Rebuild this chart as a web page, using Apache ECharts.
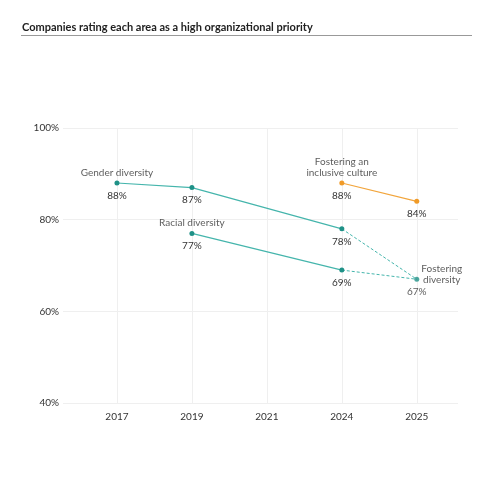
<!DOCTYPE html>
<html>
<head>
<meta charset="utf-8">
<script src="https://cdn.jsdelivr.net/npm/echarts@6/dist/echarts.min.js"></script>
<style>
html,body{margin:0;padding:0;background:#fff;}
#chart{width:500px;height:500px;}
</style>
</head>
<body>
<div id="chart"></div>
<script>
var titleText = 'Companies rating each area as a high organizational priority';
var years = ['2017', '2019', '2021', '2024', '2025'];
var yTicks = [40, 60, 80, 100];
var gender = [88, 87, null, 78, null];
var racial = [null, 77, null, 69, null];
var inclusive = [null, null, null, 88, 84];
var fostering = [null, null, null, null, 67];

var teal = '#45b5ac', tealDot = '#1f9187', orange = '#f2a53c', orangeDot = '#f09a27';
var font = 'Lato';

function pts(arr){
    var out = [];
    arr.forEach(function(v, i){ if(v != null) out.push([i, v]); });
    return out;
}
function firstPt(arr){ return pts(arr)[0]; }

var chart = echarts.init(document.getElementById('chart'));

var valueLabel = {
    show: true, position: 'bottom', distance: 5,
    formatter: function(p){ return p.value[1] + '%'; },
    color: '#333', fontSize: 10, fontFamily: font
};

function lineSeries(arr, c, dot){
    return {
        type: 'line', data: pts(arr), symbol: 'circle', symbolSize: 5,
        lineStyle: {color: c, width: 1.2},
        itemStyle: {color: dot},
        label: valueLabel, z: 3
    };
}
function dashSeries(a, b, c){
    return {
        type: 'line', data: [a, b], symbol: 'none', silent: true,
        lineStyle: {color: c, width: 1, type: [3, 2]}, z: 2
    };
}

var names = [
    {value: firstPt(gender), name: 'Gender diversity'},
    {value: firstPt(racial), name: 'Racial diversity'},
    {value: firstPt(inclusive), name: 'Fostering an\ninclusive culture'}
];

var option = {
    animation: false,
    textStyle: {fontFamily: font},
    graphic: [{
        type: 'text', left: 22, top: 22,
        style: {text: titleText, fill: '#222', font: 'bold 11px ' + font}
    }, {
        type: 'line', shape: {x1: 21, y1: 35.5, x2: 472, y2: 35.5},
        style: {stroke: '#999', lineWidth: 1}
    }],
    grid: {left: 63, right: 42, top: 128, bottom: 97},
    xAxis: {
        type: 'value', min: -0.72, max: 4.55,
        axisLine: {show: false},
        axisTick: {show: false, customValues: [0, 1, 2, 3, 4]},
        axisLabel: {
            customValues: [0, 1, 2, 3, 4], margin: 9,
            formatter: function(v){ return years[Math.round(v)]; },
            color: '#333', fontSize: 10, fontFamily: font
        },
        splitLine: {show: true, lineStyle: {color: '#efefef', width: 1}}
    },
    yAxis: {
        type: 'value', min: 40, max: 100, interval: 20,
        axisLine: {show: false}, axisTick: {show: false},
        axisLabel: {
            formatter: '{value}%', margin: 4,
            color: '#333', fontSize: 10, fontFamily: font
        },
        splitLine: {lineStyle: {color: '#efefef', width: 1}}
    },
    series: [
        dashSeries([3, gender[3]], [4, fostering[4]], teal),
        dashSeries([3, racial[3]], [4, fostering[4]], teal),
        lineSeries(gender, teal, tealDot),
        lineSeries(racial, teal, tealDot),
        lineSeries(inclusive, orange, orangeDot),
        {
            type: 'scatter', data: pts(fostering), symbolSize: 5,
            itemStyle: {color: tealDot}, z: 3,
            label: valueLabel
        },
        {
            type: 'scatter', data: pts(fostering), symbolSize: 0, silent: true,
            label: {
                show: true, position: 'top', distance: 5, offset: [25, 11],
                formatter: 'Fostering\ndiversity', align: 'center', lineHeight: 11,
                color: '#333', fontSize: 10, fontFamily: font
            }
        },
        {
            type: 'scatter', data: names, symbolSize: 0, silent: true,
            label: {
                show: true, position: 'top', distance: 5,
                formatter: function(p){ return p.name; }, lineHeight: 11,
                color: '#333', fontSize: 10, fontFamily: font
            }
        }
    ]
};
chart.setOption(option);
</script>
</body>
</html>
